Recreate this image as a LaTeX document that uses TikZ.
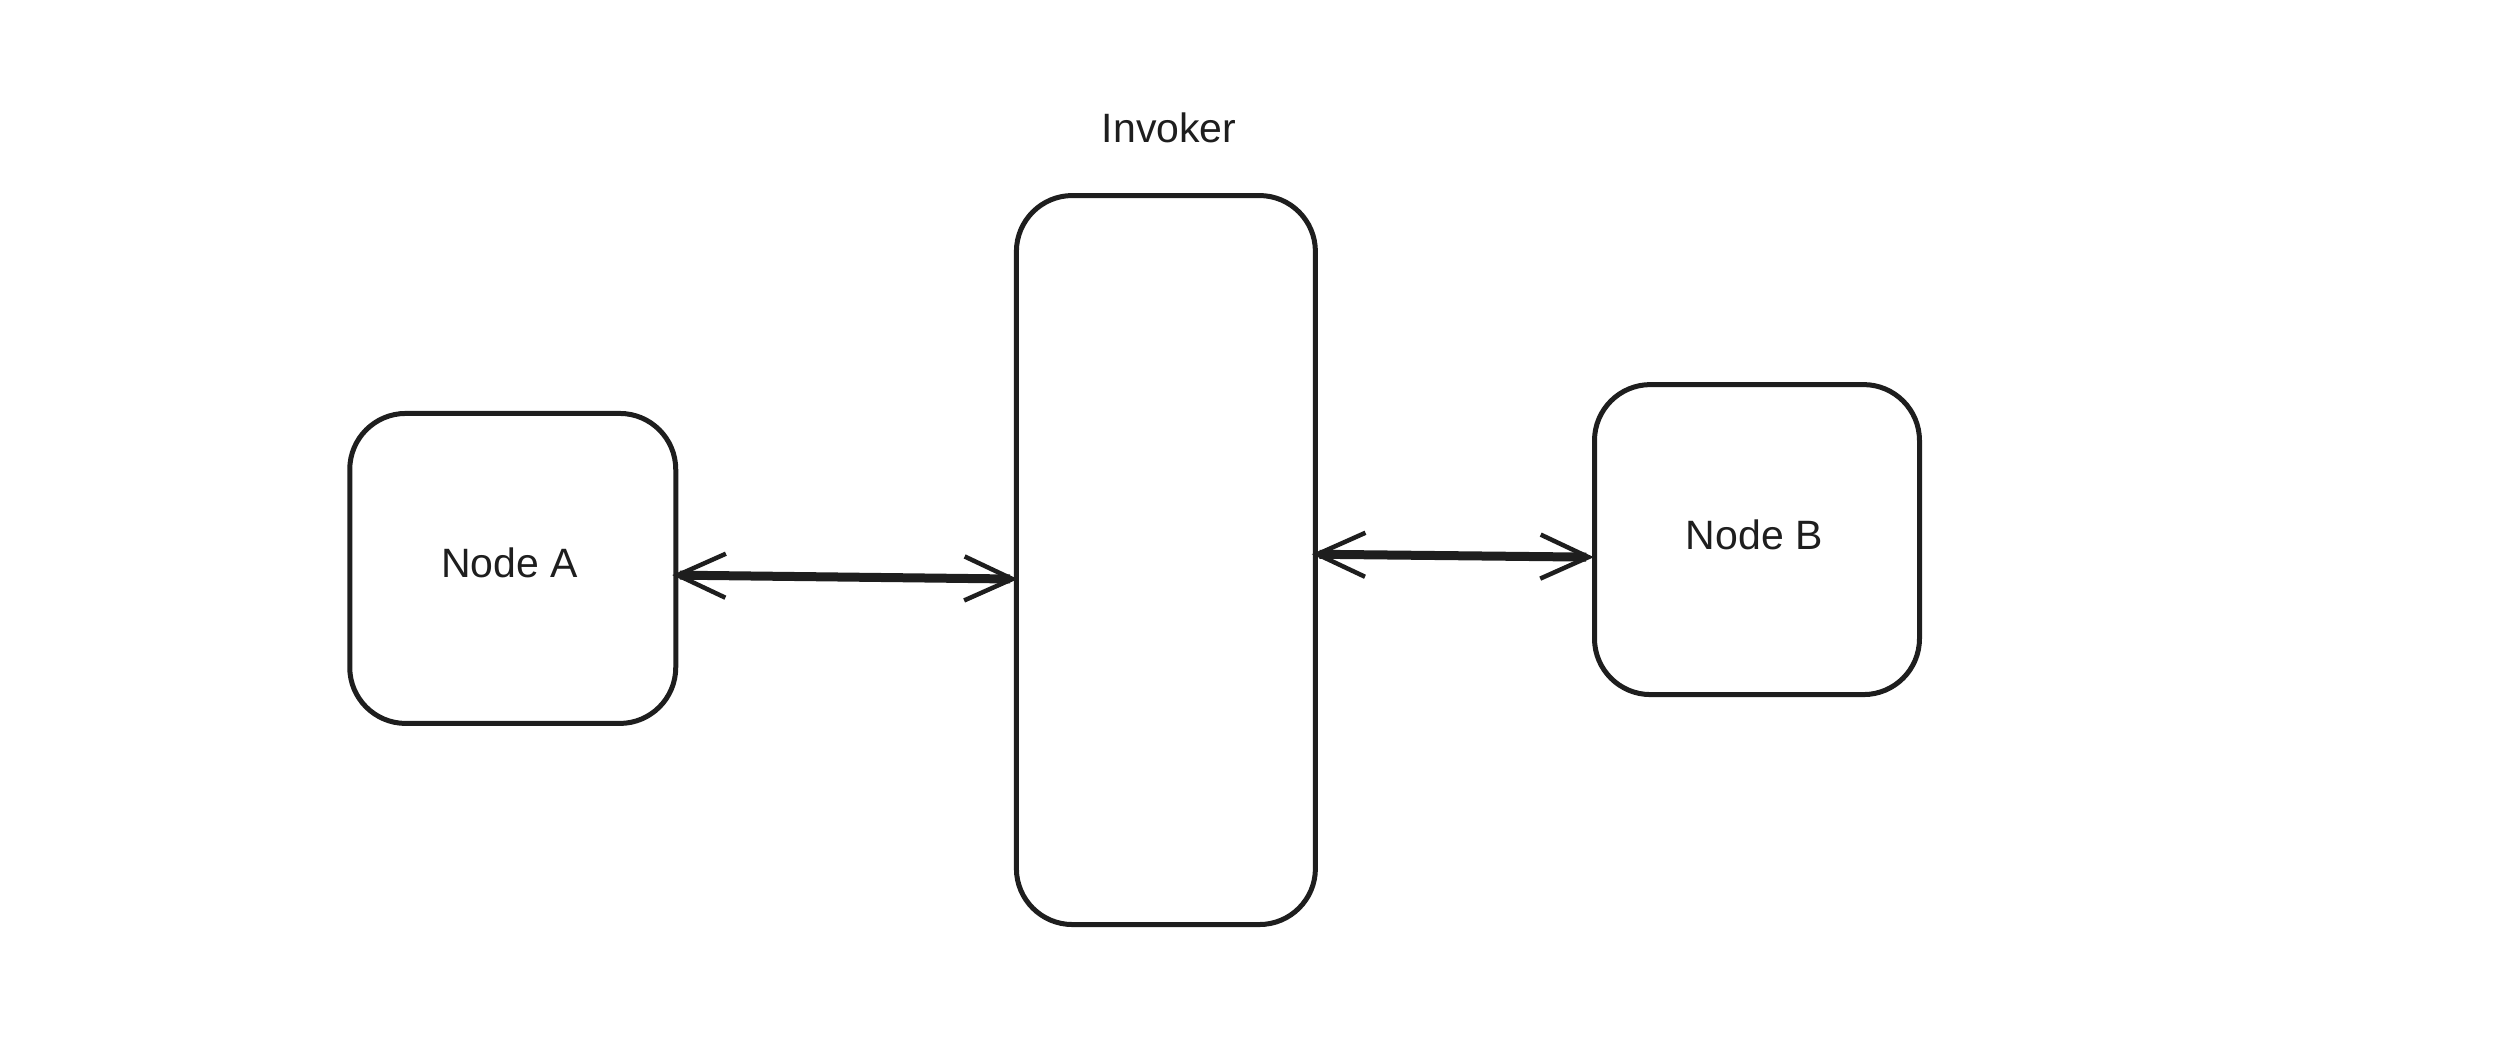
\documentclass[tikz,border=0pt]{standalone}
\usepackage{fontspec}
\setmainfont{Liberation Sans}
\usetikzlibrary{arrows.meta}
\definecolor{ink}{HTML}{1E1E1E}
\begin{document}
\begin{tikzpicture}[x=1pt,y=-1pt,
  boxnode/.style={draw=ink, line width=5pt, rounded corners=56pt, inner sep=0pt, anchor=north west, text=ink},
  lbl/.style={text=ink, font=\fontsize{41}{48}\selectfont},
  link/.style={draw=ink, line width=9pt, {Straight Barb[length=48pt,width=44pt,line width=4.5pt]}-{Straight Barb[length=48pt,width=44pt,line width=4.5pt]}}]
\useasboundingbox (0,0) rectangle (2498,1058);
\begin{scope}[scale=0.995]
\node[boxnode, minimum width=326pt, minimum height=310pt] (a) at (349,413) {};
\node[lbl] (at) at (512,566) {Node A};
\node[boxnode, minimum width=299pt, minimum height=729pt] (inv) at (1019,194) {};
\node[lbl] (it) at (1175,128) {Invoker};
\node[boxnode, minimum width=325pt, minimum height=310pt] (b) at (1600,384) {};
\node[lbl] (bt) at (1763,538) {Node B};
\coordinate (a1) at ([xshift=-6pt]a.east |- 0,578);
\coordinate (i1) at ([xshift=4pt]inv.west |- 0,582);
\coordinate (i2) at ([xshift=-6pt]inv.east |- 0,557);
\coordinate (b1) at ([xshift=2pt]b.west |- 0,560);
\draw[link] (a1) -- (i1);
\draw[link] (i2) -- (b1);
\end{scope}
\end{tikzpicture}
\end{document}
